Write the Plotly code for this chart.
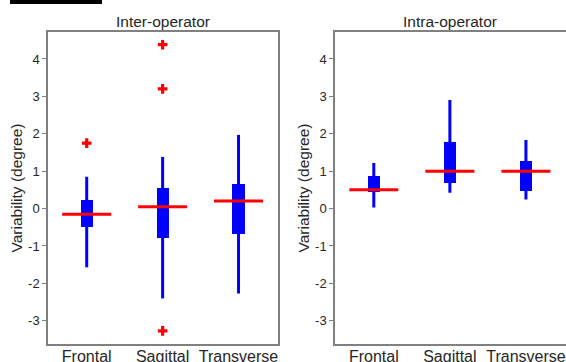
import plotly.graph_objects as go

categories = ["Frontal", "Sagittal", "Transverse"]
panels = ["Inter-operator", "Intra-operator"]

# Inter-operator statistics
inter_low = [-1.57, -2.40, -2.27]
inter_q1 = [-0.50, -0.78, -0.68]
inter_med = [-0.15, 0.05, 0.20]
inter_q3 = [0.22, 0.55, 0.65]
inter_high = [0.85, 1.38, 1.97]
inter_out_x = ["Frontal", "Sagittal", "Sagittal", "Sagittal"]
inter_out_y = [1.75, 4.38, 3.20, -3.27]

# Intra-operator statistics
intra_low = [0.03, 0.42, 0.24]
intra_q1 = [0.45, 0.68, 0.48]
intra_med = [0.50, 1.00, 1.00]
intra_q3 = [0.88, 1.77, 1.27]
intra_high = [1.22, 2.90, 1.83]
intra_out_x = []
intra_out_y = []

y_ticks = [-3, -2, -1, 0, 1, 2, 3, 4]
y_tick_text = ["-3", "-2", "-1", "0", "1", "2", "3", "4"]

BLUE = "#0000ff"
RED = "#ff0000"
TXT = "#262626"
FRAME = "#808080"
FONT = "Liberation Sans, Arial"

fig = go.Figure()

def add_panel(idx, low, q1, med, q3, high, ox, oy):
    xa = "x" if idx == 0 else "x2"
    ya = "y" if idx == 0 else "y2"
    for c, lo, hi in zip(categories, low, high):
        fig.add_trace(go.Scatter(x=[c, c], y=[lo, hi], mode="lines",
                                 line=dict(color=BLUE, width=3),
                                 xaxis=xa, yaxis=ya, showlegend=False, hoverinfo="skip"))
    fig.add_trace(go.Bar(x=categories, y=[b - a for a, b in zip(q1, q3)], base=q1,
                         width=0.16, marker=dict(color=BLUE, line=dict(width=0)),
                         xaxis=xa, yaxis=ya, showlegend=False))
    fig.add_trace(go.Scatter(x=categories, y=med, mode="markers",
                             marker=dict(symbol="line-ew", size=35,
                                         line=dict(color=RED, width=3)),
                             xaxis=xa, yaxis=ya, showlegend=False))
    if ox:
        fig.add_trace(go.Scatter(x=ox, y=oy, mode="markers",
                                 marker=dict(symbol="cross", size=8, color=RED,
                                             line=dict(width=0)),
                                 xaxis=xa, yaxis=ya, showlegend=False))

add_panel(0, inter_low, inter_q1, inter_med, inter_q3, inter_high, inter_out_x, inter_out_y)
add_panel(1, intra_low, intra_q1, intra_med, intra_q3, intra_high, intra_out_x, intra_out_y)

W, H = 566, 362
ydom = [1 - 344 / H, 1 - 32 / H]

common_x = dict(range=[-0.51, 2.52], showgrid=False, zeroline=False, showline=True,
                linecolor=FRAME, linewidth=1.5, mirror=True, ticks="", automargin=False,
                ticklabelstandoff=-3,
                tickfont=dict(family=FONT, size=16, color=TXT))
common_y = dict(range=[-3.62, 4.72], tickvals=y_ticks, ticktext=y_tick_text,
                showgrid=False, zeroline=False, automargin=False,
                showline=True, linecolor=FRAME, linewidth=1.5, mirror=True,
                ticks="outside", ticklen=4, tickcolor=FRAME,
                tickfont=dict(family=FONT, size=13, color=TXT),
                title=dict(text="Variability (degree)", standoff=2,
                           font=dict(family=FONT, size=15.5, color=TXT)))

fig.update_layout(
    width=W, height=H,
    margin=dict(l=0, r=0, t=0, b=0),
    paper_bgcolor="white", plot_bgcolor="white",
    bargap=0,
    xaxis=dict(domain=[48 / W, 278 / W], anchor="y", **common_x),
    yaxis=dict(domain=ydom, anchor="x", **common_y),
    xaxis2=dict(domain=[335 / W, 565.5 / W], anchor="y2", **common_x),
    yaxis2=dict(domain=ydom, anchor="x2", **common_y),
    annotations=[
        dict(text=panels[0], x=(48 + 278) / 2 / W, y=1 - 21 / H, xref="paper", yref="paper",
             showarrow=False, xanchor="center", yanchor="middle",
             font=dict(family=FONT, size=15.5, color=TXT)),
        dict(text=panels[1], x=(335 + 565) / 2 / W, y=1 - 21 / H, xref="paper", yref="paper",
             showarrow=False, xanchor="center", yanchor="middle",
             font=dict(family=FONT, size=15.5, color=TXT)),
    ],
    shapes=[dict(type="rect", xref="paper", yref="paper", x0=10 / W, x1=102 / W,
                 y0=1 - 4 / H, y1=1, fillcolor="black", line=dict(width=0))],
)

fig.write_html("out.html", config={"displayModeBar": False},
               post_script="document.body.style.margin='0';document.body.style.overflow='hidden';")
